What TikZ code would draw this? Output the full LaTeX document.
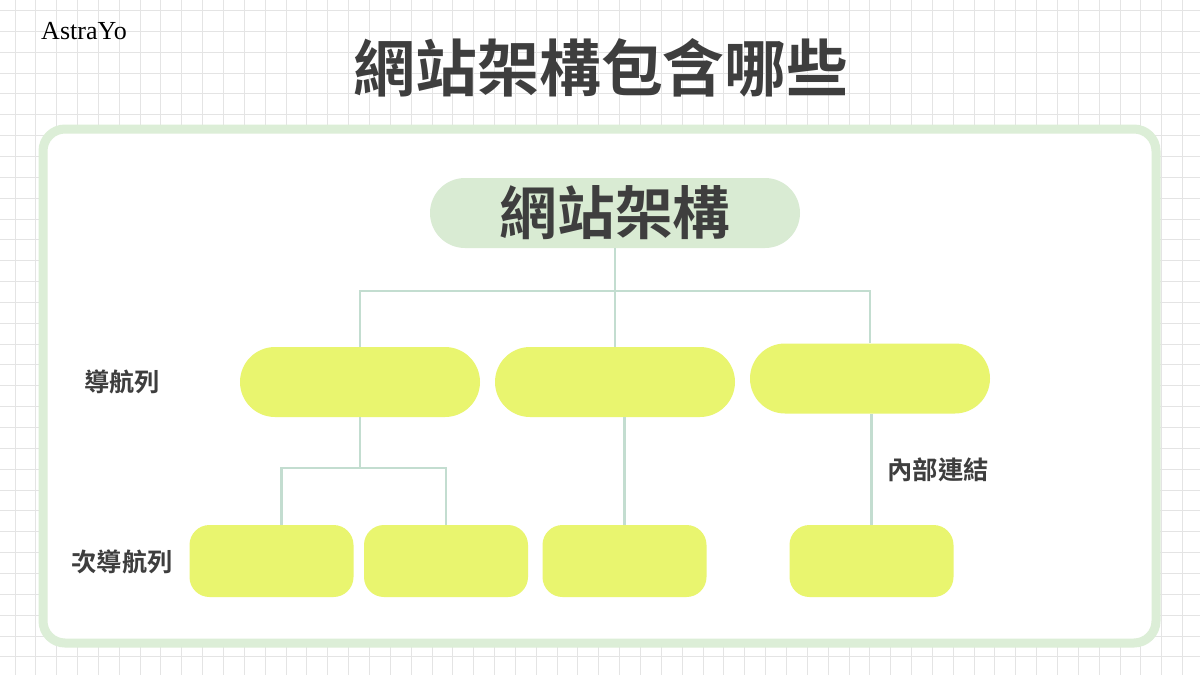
\documentclass[tikz,border=0pt]{standalone}
\usepackage{fontspec}
\setmainfont{Liberation Serif}
\newfontfamily\cjk{Noto Sans CJK TC}[BoldFont={Noto Sans CJK TC Bold}]
\usetikzlibrary{positioning}
\newcommand\px{0.7113pt}
\definecolor{gridgray}{HTML}{E4E4E4}
\definecolor{framegreen}{HTML}{DCEED7}
\definecolor{rootgreen}{HTML}{D9EBD3}
\definecolor{pillyellow}{HTML}{E9F56F}
\definecolor{wiregreen}{HTML}{C3DDD0}
\definecolor{inkgray}{HTML}{3E3E3E}
\tikzset{
  gridline/.style={draw=gridgray, line width=1.5*\px},
  frame/.style={draw=framegreen, fill=white, line width=9*\px, rounded corners=22*\px},
  pill/.style={fill=pillyellow, minimum width=240*\px, minimum height=70*\px,
    rounded corners=35*\px, inner sep=0pt},
  rootpill/.style={fill=rootgreen, minimum width=370*\px, minimum height=70*\px,
    rounded corners=35*\px, inner sep=0pt, text=inkgray,
    font=\cjk\bfseries\fontsize{41}{46}\selectfont},
  box/.style={fill=pillyellow, minimum width=164*\px, minimum height=72*\px,
    rounded corners=20*\px, inner sep=0pt},
  heading/.style={text=inkgray, inner sep=0pt, font=\cjk\bfseries\fontsize{44}{50}\selectfont},
  sidelabel/.style={text=inkgray, inner sep=0pt, font=\cjk\bfseries\fontsize{18}{20}\selectfont},
  wire/.style={draw=wiregreen, line width=2.5*\px}
}
\begin{document}
\begin{tikzpicture}[x=\px, y=-\px]
\useasboundingbox (0,0) rectangle (1200,675);
\fill[white] (0,0) rectangle (1200,675);
\foreach \i in {0,...,57} \draw[gridline] ({round(14.5+20.85*\i)+0.5},0) -- ++(0,675);
\foreach \i in {0,...,32} \draw[gridline] (0,{round(10+20.85*\i)+0.5}) -- ++(1200,0);
\draw[frame] (43,129) rectangle (1156,643);

\node[text=black, inner sep=0pt, font=\fontsize{18.5}{20}\selectfont] (brand) at (84,31) {AstraYo};
\node[heading] (title) at (601,68) {網站架構包含哪些};

\node[rootpill] (arch) at (615,213) {網站架構};
\node[pill] (nav) at (360,382) {};
\node[pill] (mid) at (615,382) {};
\node[pill] (inner) at (870,378.5) {};
\node[box] (sub1) at (271.5,561) {};
\node[box] (sub2) at (446,561) {};
\node[box] (sub3) at (624.5,561) {};
\node[box] (sub4) at (871.5,561) {};

\node[sidelabel] (navlabel) at (122,382) {導航列};
\node[sidelabel] (sublabel) at (122,562) {次導航列};
\node[sidelabel] (innerlabel) at (938,470) {內部連結};

\coordinate (fork1) at (615,291);
\coordinate (fork2) at (360,468);
\draw[wire] (arch.south) -- (fork1);
\draw[wire] (fork1) -| (nav.north);
\draw[wire] (fork1) -- (mid.north);
\draw[wire] (fork1) -| (inner.north);
\draw[wire] (nav.south) -- (fork2);
\draw[wire] (fork2) -| ([xshift=10*\px]sub1.north);
\draw[wire] (fork2) -| (sub2.north);
\draw[wire] (mid.south -| sub3.north) -- (sub3.north);
\draw[wire] (inner.south -| sub4.north) -- (sub4.north);
\end{tikzpicture}
\end{document}
